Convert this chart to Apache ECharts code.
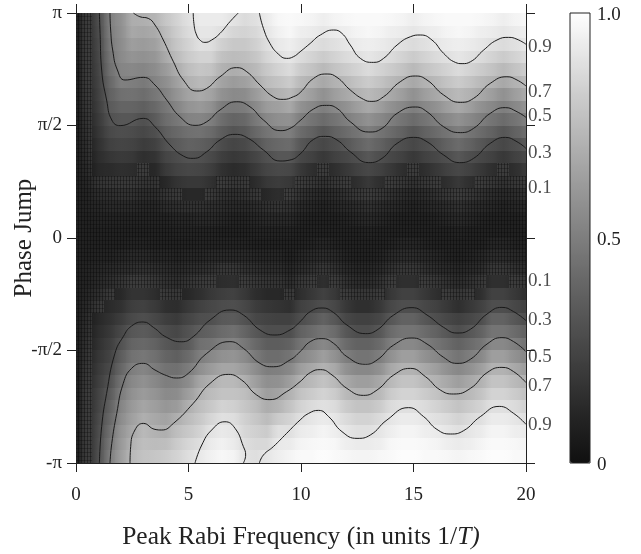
<!DOCTYPE html>
<html>
<head>
<meta charset="utf-8">
<style>
  html, body { margin: 0; background: #fff; }
  #chart { width: 641px; height: 554px; }
</style>
<script src="https://cdn.jsdelivr.net/npm/echarts@6/dist/echarts.min.js"></script>
</head>
<body>
<div id="chart"></div>
<script>
// peak Rabi frequency of each heat column, 0 .. 20 in steps of 0.5
const rabiValues = [0,0.5,1,1.5,2,2.5,3,3.5,4,4.5,5,5.5,6,6.5,7,7.5,8,8.5,9,9.5,10,10.5,11,11.5,12,12.5,13,13.5,14,14.5,15,15.5,16,16.5,17,17.5,18,18.5,19,19.5,20];
// phase of the heat rows in degrees, by distance from 0
const phaseSteps = [5,15,25,35,45,55,65,75,85,95,105,115,125,135,145,155,165,175];

// probability in percent, one line per Rabi value, positive phases
const upperColumns = [
  [1,1,1,1,1,1,1,1,1,1,1,1,1,1,2,2,2,2],
  [1,1,2,2,3,4,5,6,7,8,9,10,11,11,11,11,11,11],
  [1,2,3,5,8,12,14,16,18,20,22,23,24,25,26,27,28,29],
  [1,2,4,6,9,13,18,23,27,31,35,38,41,44,46,48,50,51],
  [1,2,4,7,10,15,20,25,29,33,39,44,51,53,55,56,57,58],
  [1,2,4,7,10,14,19,24,28,33,39,45,50,54,59,63,67,69],
  [1,2,3,5,8,11,15,21,26,30,37,43,48,53,58,62,66,70],
  [1,2,3,5,8,12,17,23,29,35,41,47,52,56,60,64,68,72],
  [1,2,5,8,12,20,25,31,37,43,47,52,57,62,68,72,75,79],
  [2,3,6,10,17,24,28,35,41,47,53,59,64,69,75,79,82,84],
  [2,3,7,12,19,26,31,38,44,52,59,65,71,76,81,84,87,89],
  [2,4,7,12,19,25,30,37,45,53,61,68,74,79,84,89,91,93],
  [2,4,6,10,16,22,27,34,42,50,58,65,72,78,84,88,91,93],
  [1,3,5,7,11,16,22,28,36,43,49,58,65,71,77,83,89,93],
  [1,2,4,6,9,13,19,25,32,39,48,55,62,69,75,80,85,90],
  [1,2,4,7,10,15,21,27,34,41,49,56,64,71,76,80,84,87],
  [2,3,5,9,14,20,25,32,41,48,55,62,69,74,79,83,86,89],
  [2,4,7,12,19,25,30,38,46,54,62,68,75,80,85,88,91,93],
  [2,4,8,14,21,27,33,41,49,57,64,71,78,84,89,92,95,97],
  [2,4,7,11,19,26,33,42,50,58,67,74,81,87,91,94,97,98],
  [1,2,4,7,11,19,26,33,42,50,58,67,74,81,87,91,94,97],
  [1,1,3,5,9,15,23,29,38,46,54,63,71,78,84,89,93,96],
  [1,1,2,4,7,11,19,26,33,42,50,58,67,74,81,87,91,94],
  [1,1,3,5,9,15,23,29,38,46,54,63,71,78,84,89,93,96],
  [1,2,4,7,11,19,26,33,42,50,58,67,74,81,87,91,94,97],
  [1,3,5,9,15,23,29,38,46,54,63,71,78,84,89,93,96,98],
  [2,4,7,11,19,26,33,42,50,58,67,74,81,87,91,94,97,98],
  [1,3,5,9,15,23,29,38,46,54,63,71,78,84,89,93,96,98],
  [1,2,4,7,11,19,26,33,42,50,58,67,74,81,87,91,94,97],
  [1,1,3,5,9,15,23,29,38,46,54,63,71,78,84,89,93,96],
  [1,1,2,4,7,11,19,26,33,42,50,58,67,74,81,87,91,94],
  [1,1,3,5,9,15,23,29,38,46,54,63,71,78,84,89,93,96],
  [1,2,4,7,11,19,26,33,42,50,58,67,74,81,87,91,94,97],
  [1,3,5,9,15,23,29,38,46,54,63,71,78,84,89,93,96,98],
  [2,4,7,11,19,26,33,42,50,58,67,74,81,87,91,94,97,98],
  [1,3,5,9,15,23,29,38,46,54,63,71,78,84,89,93,96,98],
  [1,2,4,7,11,19,26,33,42,50,58,67,74,81,87,91,94,97],
  [1,1,3,5,9,15,23,29,38,46,54,63,71,78,84,89,93,96],
  [1,1,2,4,7,11,19,26,33,42,50,58,67,74,81,87,91,94],
  [1,1,3,5,9,15,23,29,38,46,54,63,71,78,84,89,93,96],
  [1,2,4,7,11,19,26,33,42,50,58,67,74,81,87,91,94,97],
];

// same for negative phases
const lowerColumns = [
  [1,1,1,1,1,1,1,1,1,1,1,1,1,1,2,2,2,2],
  [1,1,2,2,3,4,5,6,7,8,9,10,11,11,11,11,11,11],
  [1,2,3,4,6,9,12,14,16,18,20,22,24,25,27,28,29,30],
  [1,2,4,6,10,13,16,19,22,24,27,31,35,38,41,44,47,50],
  [1,3,5,8,12,16,21,26,31,36,40,45,49,53,56,59,61,63],
  [2,4,6,11,17,22,27,33,39,45,50,54,58,61,64,67,71,74],
  [2,4,7,11,17,23,29,35,41,47,53,58,62,66,70,74,76,78],
  [1,3,6,9,14,20,26,32,38,44,49,54,59,63,67,71,75,79],
  [1,3,5,7,10,15,22,28,33,39,45,50,55,60,65,70,76,81],
  [1,2,4,6,9,14,20,26,31,37,44,51,56,62,70,76,81,84],
  [1,3,5,8,12,19,25,31,35,42,49,56,63,70,75,80,85,88],
  [2,3,6,10,15,23,29,36,44,50,57,66,71,76,80,84,88,92],
  [2,4,7,11,19,26,30,38,46,54,62,70,75,80,85,90,93,95],
  [2,4,9,14,22,28,34,42,50,58,66,74,78,84,89,92,95,97],
  [2,4,9,15,23,29,35,44,52,59,66,74,78,83,88,91,93,96],
  [2,4,7,11,19,26,31,39,47,55,62,70,76,79,83,85,88,90],
  [1,3,6,9,14,21,26,33,41,48,56,63,70,75,79,83,86,88],
  [1,3,5,8,12,18,24,29,36,43,50,57,63,69,75,81,86,91],
  [1,3,5,8,12,17,23,29,36,43,51,58,65,72,81,89,92,94],
  [1,1,3,5,9,15,23,29,38,46,54,63,71,78,84,89,93,96],
  [1,3,5,9,15,23,29,38,46,54,63,71,78,84,89,93,96,98],
  [2,4,7,11,19,26,33,42,50,58,67,74,81,87,91,94,97,98],
  [3,5,9,15,23,29,38,46,54,63,71,78,84,89,93,96,98,99],
  [2,4,7,11,19,26,33,42,50,58,67,74,81,87,91,94,97,98],
  [1,2,4,7,11,19,26,33,42,50,58,67,74,81,87,91,94,97],
  [1,1,3,5,9,15,23,29,38,46,54,63,71,78,84,89,93,96],
  [1,1,3,5,9,15,23,29,38,46,54,63,71,78,84,89,93,96],
  [1,2,4,7,11,19,26,33,42,50,58,67,74,81,87,91,94,97],
  [2,4,7,11,19,26,33,42,50,58,67,74,81,87,91,94,97,98],
  [3,5,9,15,23,29,38,46,54,63,71,78,84,89,93,96,98,99],
  [3,5,9,15,23,29,38,46,54,63,71,78,84,89,93,96,98,99],
  [2,4,7,11,19,26,33,42,50,58,67,74,81,87,91,94,97,98],
  [1,3,5,9,15,23,29,38,46,54,63,71,78,84,89,93,96,98],
  [1,2,4,7,11,19,26,33,42,50,58,67,74,81,87,91,94,97],
  [1,1,3,5,9,15,23,29,38,46,54,63,71,78,84,89,93,96],
  [1,2,4,7,11,19,26,33,42,50,58,67,74,81,87,91,94,97],
  [1,3,5,9,15,23,29,38,46,54,63,71,78,84,89,93,96,98],
  [3,5,9,15,23,29,38,46,54,63,71,78,84,89,93,96,98,99],
  [3,5,9,15,23,29,38,46,54,63,71,78,84,89,93,96,98,99],
  [2,4,7,11,19,26,33,42,50,58,67,74,81,87,91,94,97,98],
  [1,3,5,9,15,23,29,38,46,54,63,71,78,84,89,93,96,98],
];

// contour lines, [rabi, phase in degrees]
const upper90a = [[5.21,180],[5.24,171.7],[5.36,162.4],[5.54,157.9],[5.73,156.5],[6.03,158.4],[6.4,163.7],[6.84,173],[7.21,180]];
const upper90b = [[8.15,180],[8.33,167.7],[8.62,155.7],[8.99,147.2],[9.36,143.7],[9.66,145],[9.96,149],[10.41,155.7],[10.86,162.4],[11.45,166.4],[11.82,163.7],[12.19,154.4],[12.64,143.7],[13.23,140.5],[13.67,143.7],[14.27,154.4],[14.86,161],[15.3,162.4],[15.82,158.4],[16.34,147.7],[16.86,140.5],[17.16,139.5],[17.53,141],[18.12,150.4],[18.71,158.4],[19.23,160.5],[19.6,159],[20,155]];
const upper70 = [[2.55,180],[2.84,177],[3.21,175.7],[3.51,170.4],[3.88,158.4],[4.33,141],[4.77,126.4],[5.36,117.6],[5.81,119.7],[6.4,129],[7.14,136.3],[7.59,133],[8.18,122.4],[8.77,113],[9.21,110.9],[9.66,113],[9.96,116.3],[10.56,127.7],[11.16,131.2],[11.6,128.5],[12.19,118.4],[12.78,110.9],[13.15,109.3],[13.67,113],[14.41,125],[15.08,129.6],[15.6,126.4],[16.34,114.4],[17.08,108.5],[17.67,111.7],[18.41,123.7],[19.15,129],[19.6,126.4],[20,121.6]];
const upper50 = [[1.51,180],[1.54,166.4],[1.63,150.4],[1.84,134.4],[2.18,126.4],[2.99,128.5],[3.51,122.4],[4.03,110.4],[4.62,97],[5.29,90.1],[5.81,93],[6.4,102.4],[7.14,109],[7.73,105],[8.33,94.4],[9.07,85.9],[9.51,87.7],[9.96,93.9],[10.56,103.2],[11.13,106.1],[11.6,103.7],[12.19,93],[13.01,84.8],[13.6,87.7],[14.27,99.7],[15.08,104.8],[15.6,101],[16.34,89],[17.08,84.3],[17.67,87.7],[18.41,99.7],[19.08,104.3],[19.6,101],[20,96.5]];
const upper30 = [[1.04,180],[1.07,163.7],[1.14,134.4],[1.36,110.4],[1.59,94.4],[1.96,89.9],[2.99,95.7],[3.51,89],[4.18,74.4],[4.77,65.6],[5.21,63.7],[5.81,69],[6.4,78.4],[7.07,82.9],[7.66,79.7],[8.33,70.4],[9.07,61.6],[9.51,62.4],[9.96,67.2],[10.56,78.9],[11.08,81.3],[11.6,78.4],[12.19,69],[13.01,60.3],[13.6,63.7],[14.27,75.7],[15.01,80.5],[15.6,77],[16.34,66.4],[17.05,60.3],[17.67,63.7],[18.41,75.7],[19.08,80.5],[19.6,77],[20,71.7]];
const lower30 = [[1.04,-180],[1.14,-150.9],[1.36,-124.3],[1.73,-92.3],[2.1,-78.9],[2.47,-70.4],[2.99,-67.2],[3.44,-71.5],[4.03,-79.5],[4.7,-83],[5.21,-78.9],[5.96,-65.6],[6.84,-57.6],[7.44,-61.6],[8.18,-73.6],[8.84,-77.6],[9.51,-73.6],[9.96,-66.9],[10.41,-58.9],[10.93,-56],[11.45,-59.7],[12.04,-69.6],[12.86,-76.5],[13.38,-73.6],[14.12,-61.6],[14.93,-55.7],[15.6,-61.6],[16.34,-71.5],[16.93,-76],[17.53,-73],[18.27,-60.8],[18.93,-55.5],[19.45,-58.9],[20,-66.1]];
const lower50 = [[1.51,-180],[1.59,-164.3],[1.81,-140.3],[2.1,-116.3],[2.47,-104.3],[2.99,-100.3],[3.51,-105.6],[4.03,-110.1],[4.47,-112],[4.99,-108.3],[5.81,-92.3],[6.84,-82.9],[7.44,-88.3],[8.18,-100.3],[8.77,-103],[9.51,-97.6],[9.96,-90.9],[10.41,-82.9],[10.93,-80.5],[11.45,-84.3],[12.04,-94.9],[12.86,-101],[13.38,-97.6],[14.12,-85.6],[14.93,-80],[15.6,-84.8],[16.34,-95.5],[16.93,-100.3],[17.53,-97],[18.27,-84.8],[18.93,-79.7],[19.45,-82.9],[20,-90.9]];
const lower70 = [[2.4,-180],[2.43,-166.9],[2.62,-153.6],[2.99,-148.3],[3.51,-153.1],[3.81,-153.6],[4.33,-148.3],[5.21,-132.3],[5.96,-116.3],[6.77,-109.1],[7.36,-113.6],[8.03,-125.6],[8.62,-129.3],[9.36,-122.9],[9.96,-114.9],[10.41,-107.7],[10.86,-105.3],[11.38,-109.6],[12.04,-120.3],[12.78,-125.9],[13.38,-121.6],[14.12,-109.6],[14.86,-104.3],[15.53,-110.9],[16.19,-121.6],[16.78,-124.8],[17.53,-120.3],[18.27,-107.7],[18.93,-103.5],[19.45,-106.9],[20,-115.7]];
const lower90a = [[5.29,-180],[5.59,-165.6],[6.03,-153.6],[6.62,-147],[7.07,-152.3],[7.44,-166.9],[7.54,-173.6],[7.44,-180]];
const lower90b = [[8.15,-180],[8.33,-173.6],[8.77,-166.9],[9.36,-156.3],[9.96,-145.6],[10.34,-140.3],[10.78,-137.9],[11.23,-142.9],[11.82,-154.9],[12.49,-160.3],[13.08,-157.6],[13.82,-145.6],[14.78,-135.7],[15.45,-142.9],[16.04,-153.1],[16.64,-156.8],[17.23,-154.1],[17.97,-142.9],[18.81,-134.7],[19.45,-140.3],[20,-149.1]];
const contourLines = [upper90a, upper90b, upper70, upper50, upper30, lower30, lower50, lower70, lower90a, lower90b];

const contourLabels = ['0.9','0.7','0.5','0.3','0.1','0.1','0.3','0.5','0.7','0.9'];
const contourLabelPhases = [152.8,116.8,97.6,68,40,-34.4,-65.6,-95.2,-118.4,-149.6];

const phaseTickLabels = { '180': 'π', '90': 'π/2', '0': '0', '-90': '-π/2', '-180': '-π' };
const colorbarTickLabels = { '1': '1.0', '0.5': '0.5', '0': '0' };
const grayStops = ['#101010','#242424','#3a3a3a','#505050','#666666','#7e7e7e','#969696','#afafaf','#c8c8c8','#e3e3e3','#ffffff'];
// the cells at or below 0.11 are drawn lighter and with a fine grid over them
const latticeLimit = 0.11;
const latticeStops = ['#1e1e1e','#3c3c3c'];

const FONT = 'Liberation Serif';
const INK = '#222';

const latticeTile = document.createElement('canvas');
latticeTile.width = 3;
latticeTile.height = 4;
const tileCtx = latticeTile.getContext('2d');
tileCtx.fillStyle = 'rgba(0,0,0,0.35)';
tileCtx.fillRect(0, 0, 1, 4);
tileCtx.fillStyle = 'rgba(0,0,0,0.25)';
tileCtx.fillRect(0, 0, 3, 1);

const cells = [];
function pushColumn(columns, sign, i) {
  phaseSteps.forEach((phase, j) => {
    const v = columns[i][j];
    const prev = i > 0 ? columns[i - 1][j] : v;
    const next = i < columns.length - 1 ? columns[i + 1][j] : v;
    cells.push([rabiValues[i], sign * phase, v / 100, prev / 100, next / 100]);
  });
}
rabiValues.forEach((rabi, i) => {
  pushColumn(upperColumns, 1, i);
  pushColumn(lowerColumns, -1, i);
});

function shade(v, lattice) {
  if (lattice) return echarts.color.lerp(Math.min(v / latticeLimit, 1), latticeStops);
  return echarts.color.lerp(v, grayStops);
}

// columns are 11px wide in the picture, so shade them towards the neighbours
function renderCell(params, api) {
  const v = api.value(2);
  const lattice = v <= latticeLimit;
  const a = api.coord([api.value(0) - 0.25, api.value(1) + 5]);
  const b = api.coord([api.value(0) + 0.25, api.value(1) - 5]);
  const x = Math.floor(a[0]);
  const y = Math.floor(a[1]);
  const shape = echarts.graphic.clipRectByRect(
    { x, y, width: Math.ceil(b[0]) - x, height: Math.ceil(b[1]) - y },
    params.coordSys,
  );
  if (!shape) return null;
  const fill = new echarts.graphic.LinearGradient(0, 0, 1, 0, [
    { offset: 0, color: shade((v + api.value(3)) / 2, lattice) },
    { offset: 0.5, color: shade(v, lattice) },
    { offset: 1, color: shade((v + api.value(4)) / 2, lattice) },
  ]);
  const children = [{ type: 'rect', shape, style: { fill } }];
  if (lattice) children.push({ type: 'rect', shape, style: { fill: { image: latticeTile, repeat: 'repeat' } } });
  return { type: 'group', children };
}

const frameAxis = {
  axisLine: { onZero: false, lineStyle: { color: INK, width: 1 } },
  axisTick: { length: 9, lineStyle: { color: INK, width: 1 } },
  splitLine: { show: false },
};

const chart = echarts.init(document.getElementById('chart'));
chart.setOption({
  animation: false,
  textStyle: { fontFamily: FONT, color: INK },
  grid: [
    { left: 76, top: 13, width: 450, height: 450, outerBoundsMode: 'none' },
    { left: 570, top: 13, width: 20, height: 450, show: true, borderColor: INK, borderWidth: 1, backgroundColor: 'transparent', z: 10, outerBoundsMode: 'none' },
  ],
  xAxis: [
    {
      ...frameAxis, type: 'value', min: 0, max: 20, interval: 5, position: 'bottom',
      axisLabel: { fontFamily: FONT, fontSize: 19, color: INK, margin: 23 },
      name: '{a|Peak Rabi Frequency (in units 1/}{b|T)}',
      nameLocation: 'center', nameGap: 61, nameMoveOverlap: false,
      nameTextStyle: { rich: {
        a: { fontFamily: FONT, fontSize: 25.5, color: INK },
        b: { fontFamily: FONT, fontSize: 25.5, fontStyle: 'italic', color: INK },
      } },
    },
    { ...frameAxis, type: 'value', min: 0, max: 20, interval: 5, position: 'top', axisLabel: { show: false } },
    { gridIndex: 1, type: 'value', min: 0, max: 1, show: false },
  ],
  yAxis: [
    {
      ...frameAxis, type: 'value', min: -180, max: 180, interval: 90, position: 'left',
      axisLabel: { fontFamily: FONT, fontSize: 19, color: INK, margin: 14, formatter: (v) => phaseTickLabels[v] },
      name: 'Phase Jump', nameLocation: 'center', nameGap: 39, nameMoveOverlap: false,
      nameTextStyle: { fontFamily: FONT, fontSize: 25, color: INK },
    },
    { ...frameAxis, type: 'value', min: -180, max: 180, interval: 90, position: 'right', axisLabel: { show: false } },
    {
      gridIndex: 1, type: 'value', min: 0, max: 1, interval: 0.5, position: 'right',
      axisLine: { show: false }, axisTick: { show: false }, splitLine: { show: false },
      axisLabel: { fontFamily: FONT, fontSize: 19, color: INK, margin: 7, verticalAlign: 'top', lineHeight: 4, formatter: (v) => colorbarTickLabels[v] },
    },
  ],
  visualMap: {
    type: 'continuous',
    seriesIndex: 0,
    dimension: 2,
    min: 0,
    max: 1,
    left: 570,
    top: 13,
    padding: 0,
    itemWidth: 20,
    itemHeight: 450,
    calculable: false,
    hoverLink: false,
    text: null,
    showLabel: false,
    inRange: { color: grayStops },
  },
  series: [
    { type: 'custom', renderItem: renderCell, data: cells, encode: { x: 0, y: 1 }, progressive: 0, silent: true, z: 1 },
    ...contourLines.map((points) => ({
      type: 'line', data: points, symbol: 'none', smooth: 0.5, silent: true, z: 3,
      lineStyle: { color: '#1a1a1a', width: 1 },
    })),
    {
      type: 'scatter', symbolSize: 0, silent: true, z: 4,
      data: contourLabelPhases.map((phase, i) => ({ value: [20, phase], name: contourLabels[i] })),
      label: { show: true, position: 'right', distance: 2, formatter: '{b}', fontFamily: FONT, fontSize: 19, color: INK },
    },
  ],
});
</script>
</body>
</html>
